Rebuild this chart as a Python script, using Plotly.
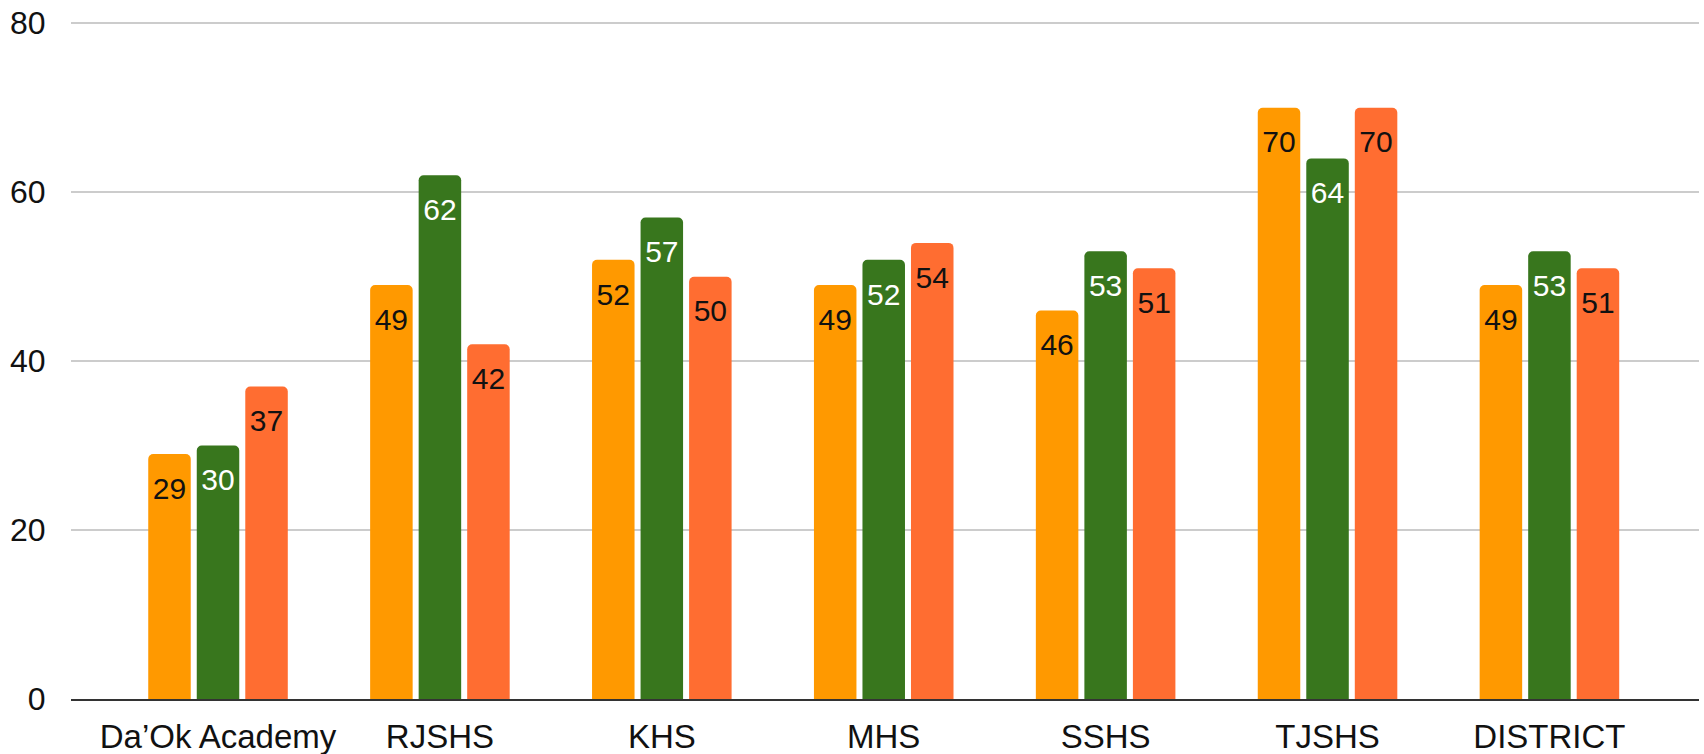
import plotly.graph_objects as go

categories = ["Da\u2019Ok Academy", "RJSHS", "KHS", "MHS", "SSHS", "TJSHS", "DISTRICT"]
series_a = [29, 49, 52, 49, 46, 70, 49]
series_b = [30, 62, 57, 52, 53, 64, 53]
series_c = [37, 42, 50, 54, 51, 70, 51]
y_ticks = [0, 20, 40, 60, 80]

series = [
    ("Series A", series_a, "#ff9900", "#111111"),
    ("Series B", series_b, "#38761d", "#ffffff"),
    ("Series C", series_c, "#ff6d31", "#111111"),
]

FONT = "Arial, 'Liberation Sans', sans-serif"

fig = go.Figure()
for i, (name, vals, color, tcolor) in enumerate(series):
    fig.add_trace(go.Bar(
        name=name, x=categories, y=vals,
        marker=dict(color=color, cornerradius=5, line=dict(width=0)),
        offsetgroup=str(i),
        hoverinfo="x+y",
    ))
for i, (name, vals, color, tcolor) in enumerate(series):
    fig.add_trace(go.Scatter(
        name=name + " labels", x=categories, y=vals,
        mode="markers+text", text=[str(v) for v in vals],
        textposition="bottom center",
        textfont=dict(family=FONT, size=30, color=tcolor),
        marker=dict(size=34, opacity=0),
        offsetgroup=str(i),
        hoverinfo="skip", showlegend=False, cliponaxis=False,
    ))

fig.update_layout(
    width=1704, height=754,
    margin=dict(l=71, r=5, t=22, b=55, autoexpand=False),
    paper_bgcolor="white", plot_bgcolor="white",
    barmode="group", bargap=0.344, bargroupgap=0.124,
    scattermode="group", scattergap=0.344,
    showlegend=False,
    font=dict(family=FONT, size=32, color="#111111"),
    xaxis=dict(
        type="category", range=[-0.6625, 6.674], automargin=False,
        showgrid=False, showline=True, linecolor="#333333", linewidth=2,
        ticks="outside", ticklen=7, tickcolor="rgba(0,0,0,0)",
        tickfont=dict(family=FONT, size=33, color="#111111"),
    ),
    yaxis=dict(
        range=[0, 80.15], tickvals=y_ticks, automargin=False,
        showgrid=True, gridcolor="#cccccc", gridwidth=2,
        zeroline=False, showline=False, ticklabeloverflow="allow",
        ticks="outside", ticklen=18, tickcolor="rgba(0,0,0,0)",
        tickfont=dict(family=FONT, size=32, color="#111111"),
    ),
)

# remove the browser's default 8px body margin so the figure fills the window exactly
fig.write_html(
    "out.html",
    config={"displayModeBar": False},
    post_script="document.body.style.margin='0';",
)
